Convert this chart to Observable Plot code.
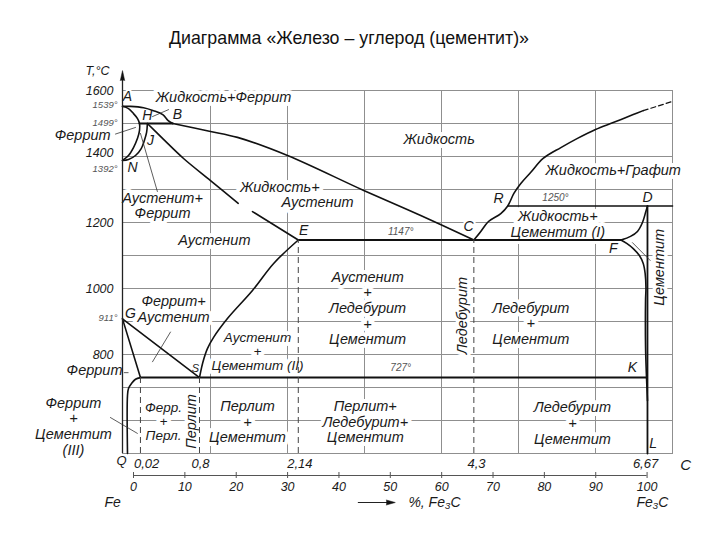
<!DOCTYPE html>
<html><head><meta charset="utf-8">
<script src="https://cdn.jsdelivr.net/npm/d3@7"></script>
<script src="https://cdn.jsdelivr.net/npm/@observablehq/plot@0.6"></script>
<style>
body{margin:0;background:#fff;}
#title{height:56px;box-sizing:border-box;padding-top:28px;width:698px;text-align:center;color:#111;font:17.8px "Liberation Sans",Arial,sans-serif;line-height:20px;}
</style></head><body>
<div id="title">Диаграмма «Железо – углерод (цементит)»</div>
<div id="chart"></div>
<script>
// ---- scales (carbon %, temperature °C) ----
const FE = -0.143;          // pure iron edge as drawn
const CMAX = 7;
const TMIN = 500, TMAX = 1600;
const C_FE3C = 6.67;

const gridC = [1, 2, 3, 4, 5, 6];
const gridT = [600, 700, 800, 900, 1000, 1100, 1200, 1300, 1400, 1500];
const tempTicks = [1600, 1400, 1200, 1000, 800];
const fe3cTicks = [0, 10, 20, 30, 40, 50, 60, 70, 80, 90, 100];

// ---- phase lines [carbon %, T] ----
const liquidusAB = [[FE,1552],[-0.04,1552],[0.13,1548],[0.26,1539],[0.38,1527],[0.45,1509],[0.51,1500]];
const liquidusBC = [[0.51,1500],[1.0,1476],[1.35,1458],[2.0,1403],[2.99,1297],[3.73,1221],[4.42,1147]];
const curveAHN = [[FE,1552],[-0.065,1545],[0,1530],[0.052,1515],[0.078,1500],[0.078,1479],[0.052,1455],[0,1427],[-0.065,1403],[FE,1388]];
const curveJN = [[0.18,1500],[0.17,1473],[0.14,1448],[0.10,1424],[0.026,1403],[-0.065,1391],[FE,1388]];
const lineHB = [[0.078,1500],[0.51,1500]];
const solidusJE1 = [[0.18,1500],[0.39,1452],[0.65,1394],[1.0,1327],[1.36,1258]];
const solidusJE2 = [[1.545,1233],[2.14,1147]];
const lineECF = [[2.14,1147],[6.33,1147]];
const curveES = [[2.14,1147],[1.82,1076],[1.545,994],[1.22,909],[1.04,852],[0.96,818],[0.9,776],[0.857,730]];
const lineGS = [[FE,908],[0.857,730]];
const lineGP = [[FE,908],[0.09,730]];
const curvePQ = [[0.09,730],[0.026,725],[-0.026,712],[-0.065,697],[-0.078,676],[-0.078,500]];
const linePSK = [[0.09,730],[6.66,730]];
const curveCR = [[4.42,1147],[4.51,1173],[4.61,1203],[4.77,1227],[4.86,1250],[4.94,1288],[5.03,1318],[5.16,1352],[5.32,1394],[5.55,1427],[5.766,1455],[6.0,1482],[6.23,1503],[6.49,1527],[6.62,1539]];
const curveGraphiteExt = [[6.62,1539],[7.0,1567]];
const lineRD = [[4.86,1250],[7.0,1250]];
const curveDF = [[6.675,1250],[6.65,1230],[6.61,1200],[6.545,1173],[6.455,1158],[6.33,1147]];
const curveFK = [[6.33,1147],[6.41,1136],[6.49,1121],[6.57,1100],[6.62,1076],[6.645,1045],[6.655,1003],[6.65,964],[6.65,824],[6.66,745],[6.675,660]];
const lineDL = [[6.675,1250],[6.675,500]];
const dashedLines = [{c:0.09,t:730},{c:0.857,t:730},{c:2.14,t:1147},{c:4.42,t:1147}];

// ---- thin leader lines ----
const leaders = [
  [[-0.234,1468],[0.026,1488]],
  [[0.31,1294],[0.09,1470]],
  [[0.247,1521],[0.455,1542]],
  [[0.48,868],[0.247,778]],
  [[-0.3,609],[0.05,561]],
  [[6.48,1139],[6.71,1085]],
  [[-0.12,745],[-0.07,745]]
];

// ---- texts ----
const regionLabels = [
  {c:1.17, t:1579, text:"Жидкость+Феррит"},
  {c:3.97, t:1452, text:"Жидкость"},
  {c:6.23, t:1358, text:"Жидкость+Графит"},
  {c:0.377, t:1252, text:"Аустенит+\nФеррит"},
  {c:1.9, t:1309, text:"Жидкость+"},
  {c:2.39, t:1261, text:"Аустенит"},
  {c:1.05, t:1148, text:"Аустенит"},
  {c:5.51, t:1195, text:"Жидкость+\nЦементит (I)"},
  {c:0.52, t:938, text:"Феррит+\nАустенит"},
  {c:3.04, t:941, text:"Аустенит\n+\nЛедебурит\n+\nЦементит"},
  {c:5.16, t:895, text:"Ледебурит\n+\nЦементит"},
  {c:-0.78, t:583, text:"Феррит\n+\nЦементит\n(III)"},
  {c:1.48, t:597, text:"Перлит\n+\nЦементит"},
  {c:3.01, t:597, text:"Перлит+\nЛедебурит+\nЦементит"},
  {c:5.70, t:592, text:"Ледебурит\n+\nЦементит"},
  {c:-0.66, t:1465, text:"Феррит"},
  {c:-0.506, t:752, text:"Феррит"}
];
const smallRegionLabels = [
  {c:1.61, t:809, text:"Аустенит\n+\nЦементит (II)"},
  {c:0.39, t:598, text:"Ферр.\n+\nПерл."}
];
const verticalLabels = [
  {c:0.753, t:597, text:"Перлит"},
  {c:4.27, t:918, text:"Ледебурит"},
  {c:6.83, t:1064, text:"Цементит"}
];
const pointLabels = [
  {c:-0.08,t:1583,text:"A"},{c:0.18,t:1524,text:"H"},{c:0.57,t:1527,text:"B"},
  {c:0.22,t:1448,text:"J"},{c:-0.013,t:1367,text:"N"},{c:2.21,t:1176,text:"E"},
  {c:4.35,t:1188,text:"C"},{c:4.74,t:1273,text:"R"},{c:6.675,t:1276,text:"D"},
  {c:6.23,t:1121,text:"F"},{c:6.48,t:761,text:"K"},{c:6.75,t:530,text:"L"},
  {c:-0.04,t:924,text:"G"}
];
const smallPointLabels = [{c:0.805,t:758,text:"S"}];
const leftTempLabels = [{t:1555,text:"1539°"},{t:1503,text:"1499°"},{t:1361,text:"1392°"},{t:912,text:"911°"}];
const innerTempLabels = [{c:3.47,t:1173,text:"1147°"},{c:5.48,t:1276,text:"1250°"},{c:3.47,t:761,text:"727°"}];
const carbonLabels = [{c:0.17,text:"0,02"},{c:0.87,text:"0,8"},{c:2.16,text:"2,14"},{c:4.455,text:"4,3"},{c:6.65,text:"6,67"}];
const bottomWords = [{c:-0.27,text:"Fe"},{c:6.74,text:"Fe₃C"}];

// ---- styles ----
const FONT = "'Liberation Sans', Arial, sans-serif";
const INK = "#1a1a1a";
const GRID = "#8f8f8f";
const it = {fontFamily: FONT, fontStyle: "italic", fill: INK};
const halo = (w) => ({stroke: "white", strokeWidth: w, strokeLinejoin: "round"});
const L = (pts, o = {}) => Plot.line(pts, {x: d => d[0], y: d => d[1], stroke: "#111", strokeWidth: 1.6, ...o});
const CR = {curve: "catmull-rom"};
const bottomText = (dy) => ({frameAnchor: "bottom", lineAnchor: "middle", textAnchor: "middle", dy});

const plot = Plot.plot({
  width: 720, height: 484,
  marginLeft: 122, marginRight: 48, marginTop: 34, marginBottom: 87,
  x: {domain: [FE, CMAX], axis: null},
  y: {domain: [TMIN, TMAX], axis: null},
  style: {background: "white", overflow: "visible", fontFamily: FONT},
  marks: [
    Plot.ruleX(gridC, {stroke: GRID, strokeWidth: 1}),
    Plot.ruleY(gridT, {stroke: GRID, strokeWidth: 1}),
    Plot.frame({stroke: GRID, strokeWidth: 1}),

    Plot.text(regionLabels, {x: "c", y: "t", text: "text", ...it, fontSize: 14.5, lineHeight: 1.08, ...halo(8)}),
    Plot.text(smallRegionLabels, {x: "c", y: "t", text: "text", ...it, fontSize: 13.5, lineHeight: 1.03, ...halo(8)}),
    Plot.text(verticalLabels, {x: "c", y: "t", text: "text", ...it, fontSize: 14.5, rotate: -90, ...halo(7)}),
    Plot.text(pointLabels, {x: "c", y: "t", text: "text", ...it, fontSize: 14, ...halo(4)}),
    Plot.text(smallPointLabels, {x: "c", y: "t", text: "text", ...it, fontSize: 11, ...halo(3)}),
    Plot.text(innerTempLabels, {x: "c", y: "t", text: "text", ...it, fill: "#555", fontSize: 10, ...halo(4)}),

    // phase lines
    L(liquidusAB, CR), L(liquidusBC, CR), L(curveAHN, CR), L(curveJN, CR),
    L(lineHB, {strokeWidth: 2}), L(solidusJE1, CR), L(solidusJE2),
    L(lineECF, {strokeWidth: 2}), L(curveES, CR), L(lineGS), L(lineGP),
    L(curvePQ, CR), L(linePSK, {strokeWidth: 2}), L(curveCR, CR),
    L(curveGraphiteExt, {strokeDasharray: "5,3", strokeWidth: 1.2}),
    L(lineRD, {strokeWidth: 1.6}), L(curveDF, CR), L(curveFK, CR), L(lineDL, {strokeWidth: 1.8}),
    Plot.ruleX(dashedLines, {x: "c", y1: TMIN, y2: "t", stroke: "#444", strokeWidth: 1, strokeDasharray: "6,4"}),
    ...leaders.map(l => L(l, {stroke: "#333", strokeWidth: 0.8})),

    // y axis with arrow
    Plot.ruleX([FE], {y1: TMIN, y2: 1630, stroke: "#222", strokeWidth: 1.3}),
    Plot.vector([FE], {x: d => d, y: () => 1630, length: 10, rotate: 0, anchor: "start", shape: "spike", r: 2.2, fill: "#111", stroke: "#111", strokeWidth: 0.5}),
    Plot.text(tempTicks.filter(d => d !== 1400), {y: d => d, text: d => String(d), frameAnchor: "left", dx: -9, textAnchor: "end", ...it, fontSize: 12.5}),
    Plot.text(tempTicks.filter(d => d === 1400), {y: d => d, text: d => String(d), frameAnchor: "left", dx: -9, dy: -4, textAnchor: "end", ...it, fontSize: 12.5}),
    Plot.text(leftTempLabels, {y: "t", text: "text", frameAnchor: "left", dx: -5, textAnchor: "end", ...it, fill: "#555", fontSize: 9.5}),
    Plot.text(["T,°C"], {frameAnchor: "top-left", textAnchor: "middle", lineAnchor: "middle", dx: -25, dy: -20, ...it, fontSize: 12.5}),

    // bottom: carbon row and Fe3C axis
    Plot.text(carbonLabels, {x: "c", text: "text", ...bottomText(10), ...it, fontSize: 13}),
    Plot.text(["Q"], {x: () => -0.156, ...bottomText(7), ...it, fontSize: 13}),
    Plot.text(["C"], {x: () => 7.17, ...bottomText(12), ...it, fontSize: 15}),
    Plot.ruleY([TMIN], {x1: 0, x2: C_FE3C, dy: 22, stroke: "#555", strokeWidth: 1}),
    Plot.ruleX(fe3cTicks, {x: p => p * C_FE3C / 100, y1: TMIN, y2: TMIN, insetTop: -3, insetBottom: -3, dy: 22, stroke: "#555", strokeWidth: 1}),
    Plot.text(fe3cTicks, {x: p => p * C_FE3C / 100, text: d => String(d), ...bottomText(33), ...it, fontSize: 12.5}),
    Plot.text(bottomWords, {x: "c", text: "text", ...bottomText(49), ...it, fontSize: 14}),
    Plot.text(["%, Fe₃C"], {x: () => 3.57, ...bottomText(49), textAnchor: "start", ...it, fontSize: 14}),
    Plot.ruleY([TMIN], {x1: 2.92, x2: 3.3, dy: 49, stroke: "#222", strokeWidth: 1}),
    Plot.vector([3.40], {x: d => d, frameAnchor: "bottom", dy: 49, length: 9, rotate: 90, anchor: "end", shape: "spike", r: 2.5, fill: "#111", stroke: "#111", strokeWidth: 0.5})
  ]
});
document.getElementById("chart").append(plot);
</script></body></html>
